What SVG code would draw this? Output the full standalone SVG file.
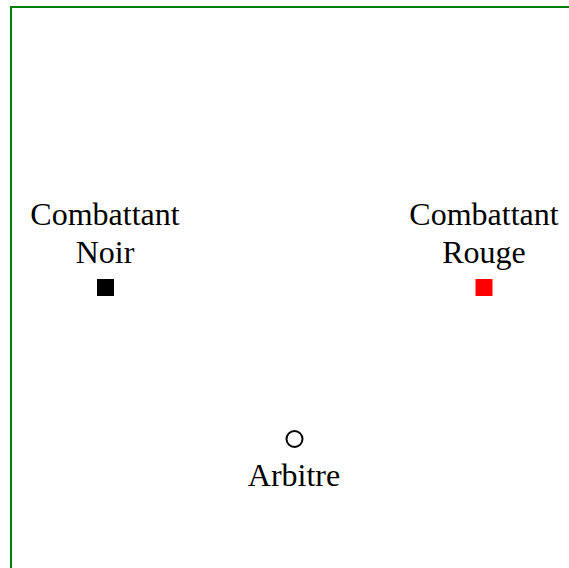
<svg xmlns="http://www.w3.org/2000/svg" width="569" height="568" viewBox="0 0 569 568">
<style>
.lbl{font-family:"Liberation Serif","Times New Roman",serif;font-size:32px;fill:#000;text-anchor:middle}
</style>
<rect x="0" y="0" width="569" height="568" fill="#fff"/>
<path d="M11,568 V7 H569" fill="none" stroke="#008000" stroke-width="2"/>
<g id="noir">
<text class="lbl" x="105" y="225">Combattant</text>
<text class="lbl" x="105" y="263">Noir</text>
<rect x="97" y="279" width="17" height="17" fill="#000"/>
</g>
<g id="rouge">
<text class="lbl" x="484" y="225">Combattant</text>
<text class="lbl" x="484" y="263">Rouge</text>
<rect x="475.5" y="279" width="17" height="17" fill="#ff0000"/>
</g>
<g id="arbitre">
<circle cx="294.5" cy="439" r="8" fill="none" stroke="#000" stroke-width="2"/>
<text class="lbl" x="294" y="486">Arbitre</text>
</g>
<g id="connectors"></g>
</svg>
